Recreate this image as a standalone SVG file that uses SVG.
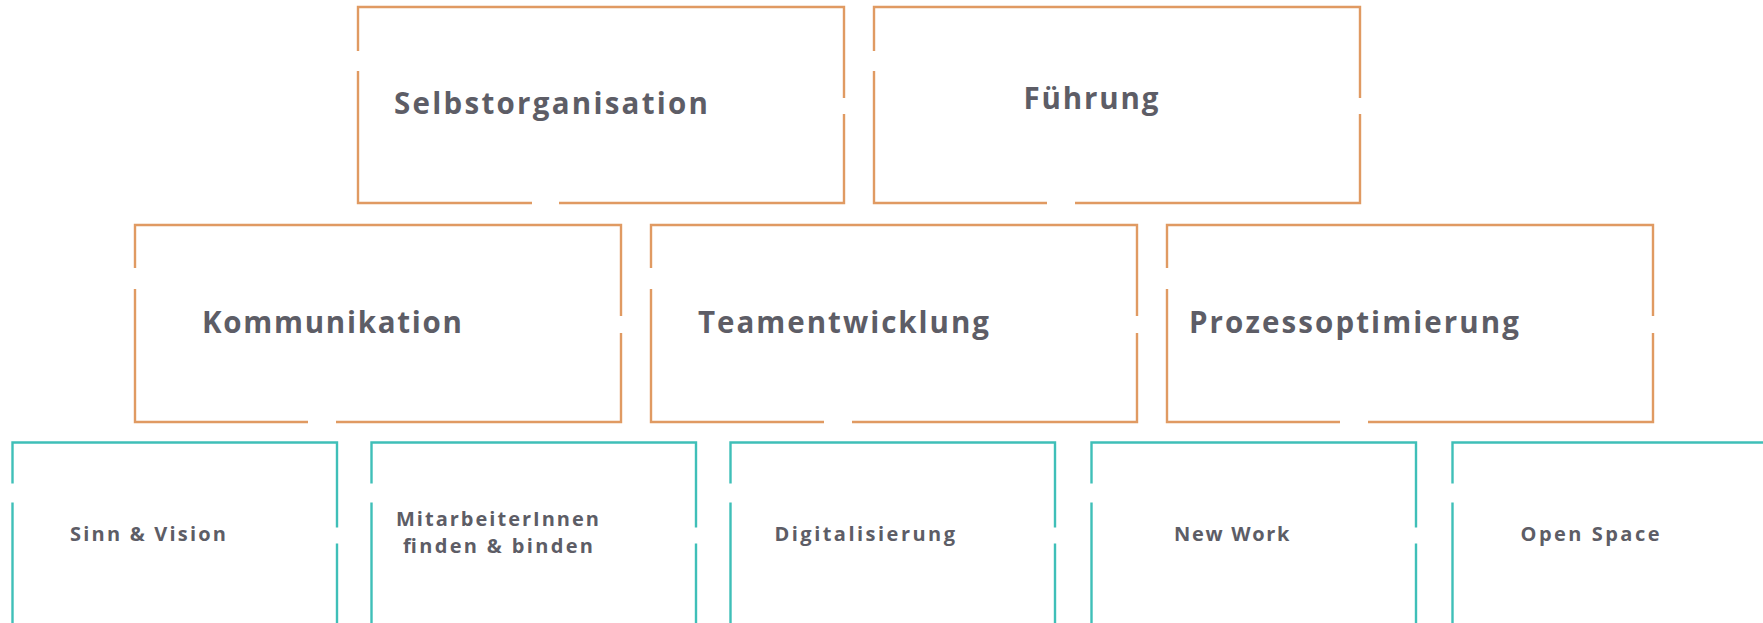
<svg xmlns="http://www.w3.org/2000/svg" width="1763" height="623" viewBox="0 0 1763 623">
<style>
.o{fill:none;stroke:#E09A62;stroke-width:2.4}
.t{fill:none;stroke:#3FBFB8;stroke-width:2.4}
.l{font-family:"Open Sans","Liberation Sans",sans-serif;font-weight:700;font-size:29.5px;fill:#5D5D66}
.s{font-family:"Open Sans","Liberation Sans",sans-serif;font-weight:700;font-size:20px;fill:#5D5D66}
</style>
<rect width="1763" height="623" fill="#fff"/>
<g id="selbstorganisation">
<path class="o" d="M358,51V7H844V98M844,114V203H559M532,203H358V71"/>
<text class="l" x="394" y="114" textLength="314" lengthAdjust="spacing">Selbstorganisation</text>
</g>
<g id="fuehrung">
<path class="o" d="M874,51V7H1360V98M1360,114V203H1075M1047,203H874V71"/>
<text class="l" x="1023.5" y="108.5" textLength="135" lengthAdjust="spacing">Führung</text>
</g>
<g id="kommunikation">
<path class="o" d="M135,268V225H621V316M621,333V422H336M308,422H135V289"/>
<text class="l" x="202" y="332.5" textLength="260" lengthAdjust="spacing">Kommunikation</text>
</g>
<g id="teamentwicklung">
<path class="o" d="M651,268V225H1137V316M1137,333V422H852M824,422H651V289"/>
<text class="l" x="698" y="332.5" textLength="291" lengthAdjust="spacing">Teamentwicklung</text>
</g>
<g id="prozessoptimierung">
<path class="o" d="M1167,268V225H1653V316M1653,333V422H1368M1340,422H1167V289"/>
<text class="l" x="1189" y="332.5" textLength="330" lengthAdjust="spacing">Prozessoptimierung</text>
</g>
<g id="sinn-vision">
<path class="t" d="M12.5,483.5V442.5H337V527.5M337,543.5V630M12.5,502.5V630"/>
<text class="s" x="70" y="540.5" textLength="156" lengthAdjust="spacing">Sinn &amp; Vision</text>
</g>
<g id="mitarbeiterinnen">
<path class="t" d="M371.5,483.5V442.5H696V527.5M696,543.5V630M371.5,502.5V630"/>
<text class="s" x="396" y="526" textLength="203" lengthAdjust="spacing">MitarbeiterInnen</text>
<text class="s" x="403" y="553" textLength="190" lengthAdjust="spacing">finden &amp; binden</text>
</g>
<g id="digitalisierung">
<path class="t" d="M730.5,483.5V442.5H1055V527.5M1055,543.5V630M730.5,502.5V630"/>
<text class="s" x="774.5" y="540.5" textLength="180.5" lengthAdjust="spacing">Digitalisierung</text>
</g>
<g id="new-work">
<path class="t" d="M1091.5,483.5V442.5H1416V527.5M1416,543.5V630M1091.5,502.5V630"/>
<text class="s" x="1174" y="540.5" textLength="115.5" lengthAdjust="spacing">New Work</text>
</g>
<g id="open-space">
<path class="t" d="M1452.5,483.5V442.5H1780M1452.5,502.5V630"/>
<text class="s" x="1520.5" y="540.5" textLength="139" lengthAdjust="spacing">Open Space</text>
</g>
</svg>
